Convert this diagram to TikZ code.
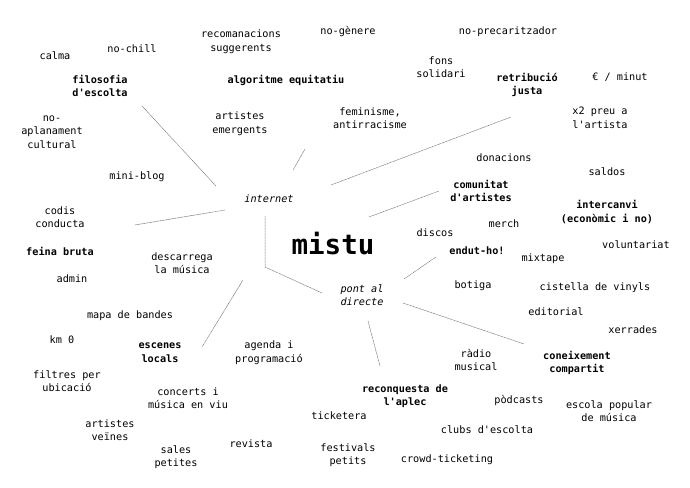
\documentclass[tikz,border=0pt]{standalone}
\usepackage{fontspec}
\setmonofont{DejaVu Sans Mono}
\begin{document}
\begin{tikzpicture}[x=1pt,y=-1pt,
  t/.style={inner sep=0pt,align=center,yshift=-1pt,font=\ttfamily\fontsize{10.2}{13.6}\selectfont},
  b/.style={t,font=\ttfamily\fontsize{10.2}{13.6}\selectfont\bfseries},
  it/.style={t,font=\ttfamily\fontsize{10.2}{13.6}\selectfont\itshape},
  big/.style={inner sep=0pt,font=\ttfamily\fontsize{27.5}{30}\selectfont\bfseries},
  link/.style={draw=black!55,line width=0.5pt,dash pattern=on 1pt off 0.5pt}]
\useasboundingbox (0,0) rectangle (690,487);
% texts
\node[t] (calma) at (55,55) {calma};
\node[t] (nochill) at (132,48) {no-chill};
\node[t] (recom) at (241,41) {recomanacions\\suggerents};
\node[t] (nogenere) at (348,31) {no-gènere};
\node[t] (noprec) at (508,31) {no-precaritzador};
\node[b] (filo) at (100,85) {filosofia\\d'escolta};
\node[b] (algo) at (286,79) {algoritme equitatiu};
\node[t] (fons) at (441,66) {fons\\solidari};
\node[b] (retrib) at (527,84) {retribució\\justa};
\node[t] (eur) at (620,76) {€ / minut};
\node[t] (noapl) at (52,131) {no-\\aplanament\\cultural};
\node[t] (artemer) at (240,123) {artistes\\emergents};
\node[t] (femin) at (370,117) {feminisme,\\antirracisme};
\node[t] (x2) at (600,117) {x2 preu a\\l'artista};
\node[t] (miniblog) at (137,176) {mini-blog};
\node[it] (internet) at (269,198) {internet};
\node[t] (donac) at (504,157) {donacions};
\node[t] (saldos) at (607,171) {saldos};
\node[b] (comun) at (481,190) {comunitat\\d'artistes};
\node[t] (codis) at (60,216) {codis\\conducta};
\node[b] (interc) at (607,211) {intercanvi\\(econòmic i no)};
\node[big] (mistu) at (333,244) {mistu};
\node[t] (discos) at (435,232) {discos};
\node[t] (merch) at (504,223) {merch};
\node[b] (feina) at (60,250) {feina bruta};
\node[b] (endut) at (477,250) {endut-ho!};
\node[t] (descarr) at (182,262) {descarrega\\la música};
\node[t] (volunt) at (636,244) {voluntariat};
\node[t] (mixtape) at (543,258) {mixtape};
\node[t] (admin) at (72,278) {admin};
\node[it] (pont) at (362,294) {pont al\\directe};
\node[t] (botiga) at (473,285) {botiga};
\node[t] (cistella) at (595,287) {cistella de vinyls};
\node[t] (mapa) at (130,315) {mapa de bandes};
\node[t] (editorial) at (556,311) {editorial};
\node[t] (km) at (62,339) {km 0};
\node[b] (escenes) at (160,352) {escenes\\locals};
\node[t] (agenda) at (269,352) {agenda i\\programació};
\node[t] (xerrades) at (633,329) {xerrades};
\node[t] (filtres) at (67,380) {filtres per\\ubicació};
\node[t] (radio) at (476,359) {ràdio\\musical};
\node[b] (conei) at (577,362) {coneixement\\compartit};
\node[t] (concerts) at (188,397) {concerts i\\música en viu};
\node[b] (reconq) at (405,395) {reconquesta de\\l'aplec};
\node[t] (ticketera) at (339,415) {ticketera};
\node[t] (podcasts) at (519,399) {pòdcasts};
\node[t] (escola) at (609,410) {escola popular\\de música};
\node[t] (veines) at (110,429) {artistes\\veïnes};
\node[t] (revista) at (251,443) {revista};
\node[t] (sales) at (176,456) {sales\\petites};
\node[t] (clubs) at (487,429) {clubs d'escolta};
\node[t] (festivals) at (348,454) {festivals\\petits};
\node[t] (crowd) at (447,459) {crowd-ticketing};
% connector end points
\coordinate (c1a) at (142,106); \coordinate (c1b) at (216,186);
\coordinate (c2a) at (293,170); \coordinate (c2b) at (305,149);
\coordinate (c3a) at (331,185); \coordinate (c3b) at (511,117);
\coordinate (c4a) at (369,217); \coordinate (c4b) at (439,191);
\coordinate (c5a) at (135,225); \coordinate (c5b) at (225,210);
\coordinate (c6a) at (265,216); \coordinate (c6m) at (265,267); \coordinate (c6b) at (322,293);
\coordinate (c7a) at (243,280); \coordinate (c7b) at (202,347);
\coordinate (c8a) at (436,257); \coordinate (c8b) at (404,279);
\coordinate (c9a) at (403,303); \coordinate (c9b) at (524,344);
\coordinate (c10a) at (368,321); \coordinate (c10b) at (380,366);
% connectors
\draw[link] (c1a) -- (c1b);
\draw[link] (c2a) -- (c2b);
\draw[link] (c3a) -- (c3b);
\draw[link] (c4a) -- (c4b);
\draw[link] (c5a) -- (c5b);
\draw[link] (c6a) -- (c6m) -- (c6b);
\draw[link] (c7a) -- (c7b);
\draw[link] (c8a) -- (c8b);
\draw[link] (c9a) -- (c9b);
\draw[link] (c10a) -- (c10b);
\end{tikzpicture}
\end{document}
